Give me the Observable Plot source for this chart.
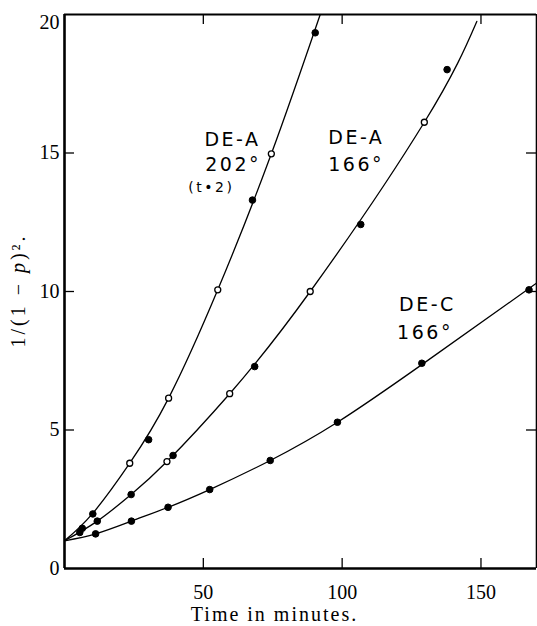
<!DOCTYPE html>
<html><head><meta charset="utf-8">
<script src="https://cdn.jsdelivr.net/npm/d3@7"></script>
<script src="https://cdn.jsdelivr.net/npm/@observablehq/plot@0.6"></script>
<style>
body{margin:0;background:#fff}
svg{display:block}
g[font-family="DejaVu Sans"]{letter-spacing:2.5px}
</style>
</head><body><div id="chart"></div>
<script>
// ---- axes ----
const xDomain = [0, 170];
const yDomain = [0, 20];
const xTicks = [50, 100, 150];
const yTicks = [0, 5, 10, 15];
const yTopTick = [20];
const yInnerTicks = [5, 10, 15];
const xLabel = "Time in minutes.";
const yLabel = "1/(1 − p)².";

// ---- DE-A 202° (t·2): measured points ----
const a202Time   = [6.4, 10.2, 23.5, 30.3, 37.5, 55.2, 67.7, 74.5, 90.3];
const a202Value  = [1.45, 1.97, 3.80, 4.65, 6.15, 10.06, 13.3, 14.97, 19.34];
const a202Marker = ["filled","filled","open","filled","open","open","filled","open","filled"];
// drawn curve
const a202CurveTime  = [0, 10, 23.5, 37.5, 55.2, 74.5, 92.1];
const a202CurveValue = [1.0, 1.97, 3.8, 6.15, 10.06, 14.97, 20];

// ---- DE-A 166° ----
const a166Time   = [5.5, 11.8, 24.0, 36.9, 39.1, 59.5, 68.5, 88.5, 106.7, 129.6, 137.8];
const a166Value  = [1.30, 1.71, 2.67, 3.86, 4.08, 6.31, 7.29, 10.0, 12.42, 16.11, 18.01];
const a166Marker = ["filled","filled","filled","open","filled","open","filled","open","filled","open","filled"];
const a166CurveTime  = [0, 11.8, 24, 36.9, 59.5, 88.5, 129.6, 148.5];
const a166CurveValue = [1.0, 1.71, 2.67, 3.86, 6.31, 10.0, 16.11, 19.75];

// ---- DE-C 166° ----
const c166Time   = [11.2, 24.1, 37.3, 52.3, 74.1, 98.3, 128.7, 167.3];
const c166Value  = [1.25, 1.71, 2.21, 2.85, 3.90, 5.28, 7.41, 10.06];
const c166Marker = ["filled","filled","filled","filled","filled","filled","filled","filled"];
const c166CurveTime  = [0, 11.2, 24.1, 37.3, 52.3, 74.1, 98.3, 128.7, 170];
const c166CurveValue = [1.0, 1.25, 1.71, 2.21, 2.85, 3.90, 5.28, 7.36, 10.3];

// ---- curve labels ----
const labelText  = ["DE-A", "202°", "DE-A", "166°", "DE-C", "166°"];
const labelTime  = [50.4, 50.7, 95.0, 95.0, 120.5, 119.8];
const labelValue = [15.49, 14.57, 15.54, 14.57, 9.51, 8.52];
const noteText  = ["(t•2)"];
const noteTime  = [44.6];
const noteValue = [13.74];

// ---- build tables ----
const zipPts = (t, v, m) => t.map((d, i) => ({time: d, value: v[i], marker: m ? m[i] : null}));
const points = [
  ...zipPts(a202Time, a202Value, a202Marker),
  ...zipPts(a166Time, a166Value, a166Marker),
  ...zipPts(c166Time, c166Value, c166Marker)
];
const curves = [
  zipPts(a202CurveTime, a202CurveValue),
  zipPts(a166CurveTime, a166CurveValue),
  zipPts(c166CurveTime, c166CurveValue)
];
const labels = labelText.map((s, i) => ({s, time: labelTime[i], value: labelValue[i]}));
const notes = noteText.map((s, i) => ({s, time: noteTime[i], value: noteValue[i]}));

const W = 537, H = 626, mL = 64, mR = 1, mT = 14, mB = 58;
const plotW = W - mL - mR, plotH = H - mT - mB, tickLen = 10;
const serif = "Liberation Serif";

const chart = Plot.plot({
  width: W, height: H,
  marginLeft: mL, marginRight: mR, marginTop: mT, marginBottom: mB,
  x: {domain: xDomain},
  y: {domain: yDomain},
  style: {background: "white", color: "black", fontFamily: serif, fontSize: "20px"},
  marks: [
    // inward ticks on all four sides
    Plot.tickY(yInnerTicks, {y: d => d, insetRight: plotW - tickLen, strokeWidth: 1.3}),
    Plot.tickY(yInnerTicks, {y: d => d, insetLeft: plotW - tickLen, strokeWidth: 1.3}),
    Plot.tickX(xTicks, {x: d => d, insetTop: plotH - tickLen, strokeWidth: 1.3}),
    Plot.tickX(xTicks, {x: d => d, insetBottom: plotH - tickLen, strokeWidth: 1.3}),
    // frame
    Plot.ruleX([xDomain[0]], {strokeWidth: 2.6}),
    Plot.ruleX([xDomain[1]], {strokeWidth: 1.6}),
    Plot.ruleY([yDomain[0]], {strokeWidth: 2.6}),
    Plot.ruleY([yDomain[1]], {strokeWidth: 2.2}),
    // curves
    ...curves.map(c => Plot.line(c, {x: "time", y: "value", curve: "natural", stroke: "black", strokeWidth: 1.3, clip: true})),
    // points
    Plot.dot(points, {filter: d => d.marker === "filled", x: "time", y: "value", r: 3.3, fill: "black", stroke: "black", strokeWidth: 1}),
    Plot.dot(points, {filter: d => d.marker === "open", x: "time", y: "value", r: 3.0, fill: "white", stroke: "black", strokeWidth: 1.3}),
    // axes labels
    Plot.axisX(xTicks, {tickSize: 0, tickPadding: 16, label: null, fontSize: 20, fontFamily: serif}),
    Plot.axisY(yTicks, {tickSize: 0, tickPadding: 5, label: null, fontSize: 20, fontFamily: serif}),
    Plot.axisY(yTopTick, {tickSize: 0, tickPadding: 5, label: null, fontSize: 20, fontFamily: serif, dy: 8}),
    Plot.text([xLabel], {frameAnchor: "bottom", textAnchor: "middle", dx: -26, dy: 46, lineAnchor: "middle", fontSize: 20, fontFamily: serif}),
    Plot.text([yLabel], {frameAnchor: "left", textAnchor: "middle", rotate: -90, dx: -46, dy: -1, lineAnchor: "middle", fontSize: 20, fontFamily: serif}),
    // curve labels
    Plot.text(labels, {x: "time", y: "value", text: "s", textAnchor: "start", lineAnchor: "middle", fontSize: 19, fontFamily: "DejaVu Sans"}),
    Plot.text(notes, {x: "time", y: "value", text: "s", textAnchor: "start", lineAnchor: "middle", fontSize: 14, fontFamily: "DejaVu Sans"})
  ]
});

// italic p in y label, wider spacing on the two axis titles
d3.select(chart).selectAll("text").each(function() {
  if (this.textContent === yLabel) {
    this.textContent = "";
    const t = d3.select(this).attr("letter-spacing", "3px");
    t.append("tspan").text("1/(1 − ");
    t.append("tspan").attr("font-style", "italic").text("p");
    t.append("tspan").text(")².");
  } else if (this.textContent === xLabel) {
    d3.select(this).attr("letter-spacing", "2px");
  }
});

document.getElementById("chart").appendChild(chart);
</script>
</body></html>
